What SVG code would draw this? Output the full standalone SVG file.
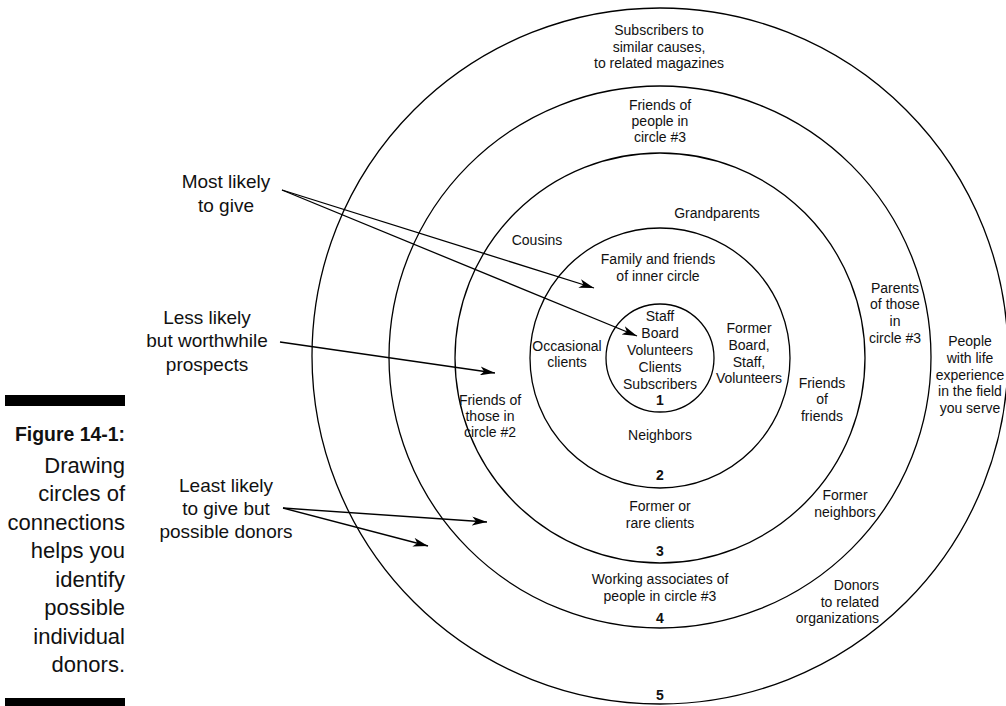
<svg xmlns="http://www.w3.org/2000/svg" width="1006" height="706" viewBox="0 0 1006 706">
<style>
  .ring { fill: none; stroke: #000; stroke-width: 1.3; }
  .lbl { font-family: "Liberation Sans", Arial, sans-serif; font-size: 14px; fill: #111; text-anchor: middle; }
  .num { font-family: "Liberation Sans", Arial, sans-serif; font-size: 14px; font-weight: bold; fill: #111; text-anchor: middle; }
  .side { font-family: "Liberation Sans", Arial, sans-serif; font-size: 19px; fill: #111; text-anchor: middle; }
  .cap { font-family: "Liberation Sans", Arial, sans-serif; font-size: 22px; fill: #111; text-anchor: end; }
  .capb { font-family: "Liberation Sans", Arial, sans-serif; font-size: 21px; font-weight: bold; fill: #111; text-anchor: end; }
  .arrow { stroke: #000; stroke-width: 1.3; fill: none; marker-end: url(#ah); }
</style>
<defs>
  <marker id="ah" markerUnits="userSpaceOnUse" markerWidth="16" markerHeight="9" viewBox="0 0 16 9" refX="15" refY="4.5" orient="auto">
    <path d="M0,0 L15,4.5 L0,9 L4,4.5 z" fill="#000"/>
  </marker>
</defs>
<rect width="1006" height="706" fill="#fff"/>

<g id="caption">
  <rect x="5" y="395" width="120" height="11" fill="#000"/>
  <text class="capb" x="125" y="441" textLength="110" lengthAdjust="spacingAndGlyphs">Figure 14-1:</text>
  <text class="cap" x="125" y="473">Drawing</text>
  <text class="cap" x="125" y="501">circles of</text>
  <text class="cap" x="125" y="530">connections</text>
  <text class="cap" x="125" y="558">helps you</text>
  <text class="cap" x="125" y="587">identify</text>
  <text class="cap" x="125" y="615">possible</text>
  <text class="cap" x="125" y="644">individual</text>
  <text class="cap" x="125" y="672">donors.</text>
  <rect x="5" y="698" width="120" height="10" fill="#000"/>
</g>

<g id="circle5">
  <circle class="ring" cx="660" cy="356" r="348"/>
  <text class="lbl" x="659" y="35">Subscribers to</text>
  <text class="lbl" x="659" y="52">similar causes,</text>
  <text class="lbl" x="659" y="68">to related magazines</text>
  <text class="lbl" x="970" y="346">People</text>
  <text class="lbl" x="970" y="363">with life</text>
  <text class="lbl" x="970" y="380">experience</text>
  <text class="lbl" x="970" y="396">in the field</text>
  <text class="lbl" x="970" y="413">you serve</text>
  <text class="lbl" x="879" y="590" style="text-anchor:end">Donors</text>
  <text class="lbl" x="879" y="607" style="text-anchor:end">to related</text>
  <text class="lbl" x="879" y="623" style="text-anchor:end">organizations</text>
  <text class="num" x="660" y="700">5</text>
</g>

<g id="circle4">
  <circle class="ring" cx="660" cy="357" r="271"/>
  <text class="lbl" x="660" y="110">Friends of</text>
  <text class="lbl" x="660" y="126">people in</text>
  <text class="lbl" x="660" y="142">circle #3</text>
  <text class="lbl" x="895" y="293">Parents</text>
  <text class="lbl" x="895" y="309">of those</text>
  <text class="lbl" x="895" y="326">in</text>
  <text class="lbl" x="895" y="343">circle #3</text>
  <text class="lbl" x="845" y="500">Former</text>
  <text class="lbl" x="845" y="517">neighbors</text>
  <text class="lbl" x="660" y="584">Working associates of</text>
  <text class="lbl" x="660" y="601">people in circle #3</text>
  <text class="num" x="660" y="623">4</text>
</g>

<g id="circle3">
  <circle class="ring" cx="660" cy="358" r="205"/>
  <text class="lbl" x="717" y="218">Grandparents</text>
  <text class="lbl" x="537" y="245">Cousins</text>
  <text class="lbl" x="822" y="388">Friends</text>
  <text class="lbl" x="822" y="404">of</text>
  <text class="lbl" x="822" y="421">friends</text>
  <text class="lbl" x="490" y="405">Friends of</text>
  <text class="lbl" x="490" y="421">those in</text>
  <text class="lbl" x="490" y="437">circle #2</text>
  <text class="lbl" x="660" y="511">Former or</text>
  <text class="lbl" x="660" y="528">rare clients</text>
  <text class="num" x="660" y="556">3</text>
</g>

<g id="circle2">
  <circle class="ring" cx="660" cy="358" r="130"/>
  <text class="lbl" x="658" y="264">Family and friends</text>
  <text class="lbl" x="658" y="281">of inner circle</text>
  <text class="lbl" x="567" y="351">Occasional</text>
  <text class="lbl" x="567" y="367">clients</text>
  <text class="lbl" x="749" y="333">Former</text>
  <text class="lbl" x="749" y="350">Board,</text>
  <text class="lbl" x="749" y="367">Staff,</text>
  <text class="lbl" x="749" y="383">Volunteers</text>
  <text class="lbl" x="660" y="440">Neighbors</text>
  <text class="num" x="660" y="480">2</text>
</g>

<g id="circle1">
  <circle class="ring" cx="660" cy="358" r="54"/>
  <text class="lbl" x="660" y="321">Staff</text>
  <text class="lbl" x="660" y="338">Board</text>
  <text class="lbl" x="660" y="355">Volunteers</text>
  <text class="lbl" x="660" y="372">Clients</text>
  <text class="lbl" x="660" y="389">Subscribers</text>
  <text class="num" x="660" y="405">1</text>
</g>

<g id="label-most">
  <text class="side" x="226" y="188">Most likely</text>
  <text class="side" x="226" y="212">to give</text>
</g>
<g id="label-less">
  <text class="side" x="207" y="324">Less likely</text>
  <text class="side" x="207" y="347">but worthwhile</text>
  <text class="side" x="207" y="371">prospects</text>
</g>
<g id="label-least">
  <text class="side" x="226" y="492">Least likely</text>
  <text class="side" x="226" y="515">to give but</text>
  <text class="side" x="226" y="538">possible donors</text>
</g>

<g id="connectors">
  <line class="arrow" x1="282" y1="190" x2="594" y2="288"/>
  <line class="arrow" x1="282" y1="190" x2="637" y2="336"/>
  <line class="arrow" x1="280" y1="342" x2="495" y2="373"/>
  <line class="arrow" x1="283" y1="508" x2="487" y2="522"/>
  <line class="arrow" x1="283" y1="508" x2="428" y2="546"/>
</g>
</svg>
